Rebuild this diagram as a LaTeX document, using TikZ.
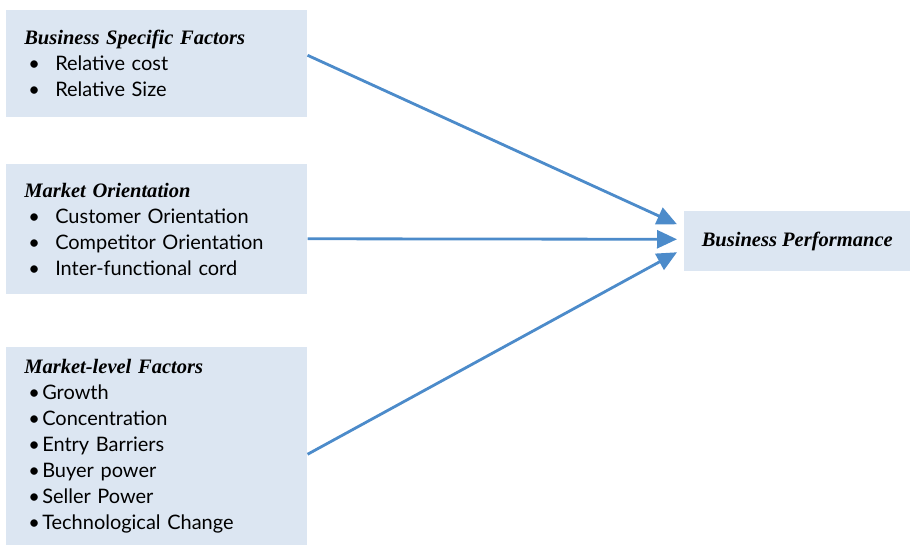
\documentclass[tikz,border=0pt]{standalone}
\usepackage{fontspec}
\setmainfont{Lato}
\newfontfamily\headfont{Liberation Serif}
\usepackage{tikz}
\definecolor{boxblue}{RGB}{220,230,242}
\definecolor{arrowblue}{RGB}{76,139,202}
\usetikzlibrary{arrows.meta}

\newcommand{\headline}[1]{{\fontsize{14.6}{18.5}\headfont\bfseries\itshape #1}}
\newcommand{\wideitem}[1]{\hspace*{0.1cm}\makebox[0.675cm][l]{\textbullet}#1}
\newcommand{\narrowitem}[1]{\hspace*{0.1cm}\makebox[0.35cm][l]{\textbullet}#1}

\begin{document}
\begin{tikzpicture}
			\tikzset{factor/.style = {fill = boxblue, anchor = north west, text width = 6.625cm, inner xsep = 0.45cm, inner ysep = 0pt, align = left, font = \fontsize{14.2}{18.5}\selectfont},
				flow/.style = {draw = arrowblue, line width = 2pt, -{Triangle[length = 0.5cm, width = 0.45cm]}}}
			\useasboundingbox (0,0) rectangle (22.75,13.625);
			
			\node[factor, minimum height = 2.675cm] (bsf) at (0.15,13.375) {\headline{Business Specific Factors}\\ \wideitem{Relative cost}\\ \wideitem{Relative Size}};
			\node[factor, minimum height = 3.25cm] (mo) at (0.15,9.525) {\headline{Market Orientation}\\ \wideitem{Customer Orientation}\\ \wideitem{Competitor Orientation}\\ \wideitem{Inter-functional cord}};
			\node[factor, minimum height = 4.95cm] (mlf) at (0.15,4.95) {\headline{Market-level Factors}\\ \narrowitem{Growth}\\ \narrowitem{Concentration}\\ \narrowitem{Entry Barriers}\\ \narrowitem{Buyer power}\\ \narrowitem{Seller Power}\\ \narrowitem{Technological Change}};
			\node[fill = boxblue, anchor = north west, minimum width = 5.65cm, minimum height = 1.5cm, font = \fontsize{14.2}{18.5}\selectfont] (perf) at (17.1,8.35) {\headline{Business Performance}};
			
			\draw[flow] ([yshift = 0.2125cm]bsf.east) -- ([xshift = -0.175cm, yshift = 0.425cm]perf.west);
			\draw[flow] ([yshift = -0.2375cm]mo.east) -- ([xshift = -0.175cm, yshift = 0.05cm]perf.west);
			\draw[flow] ([yshift = -0.2cm]mlf.east) -- ([xshift = -0.175cm, yshift = -0.275cm]perf.west);
			
\end{tikzpicture}
\end{document}
